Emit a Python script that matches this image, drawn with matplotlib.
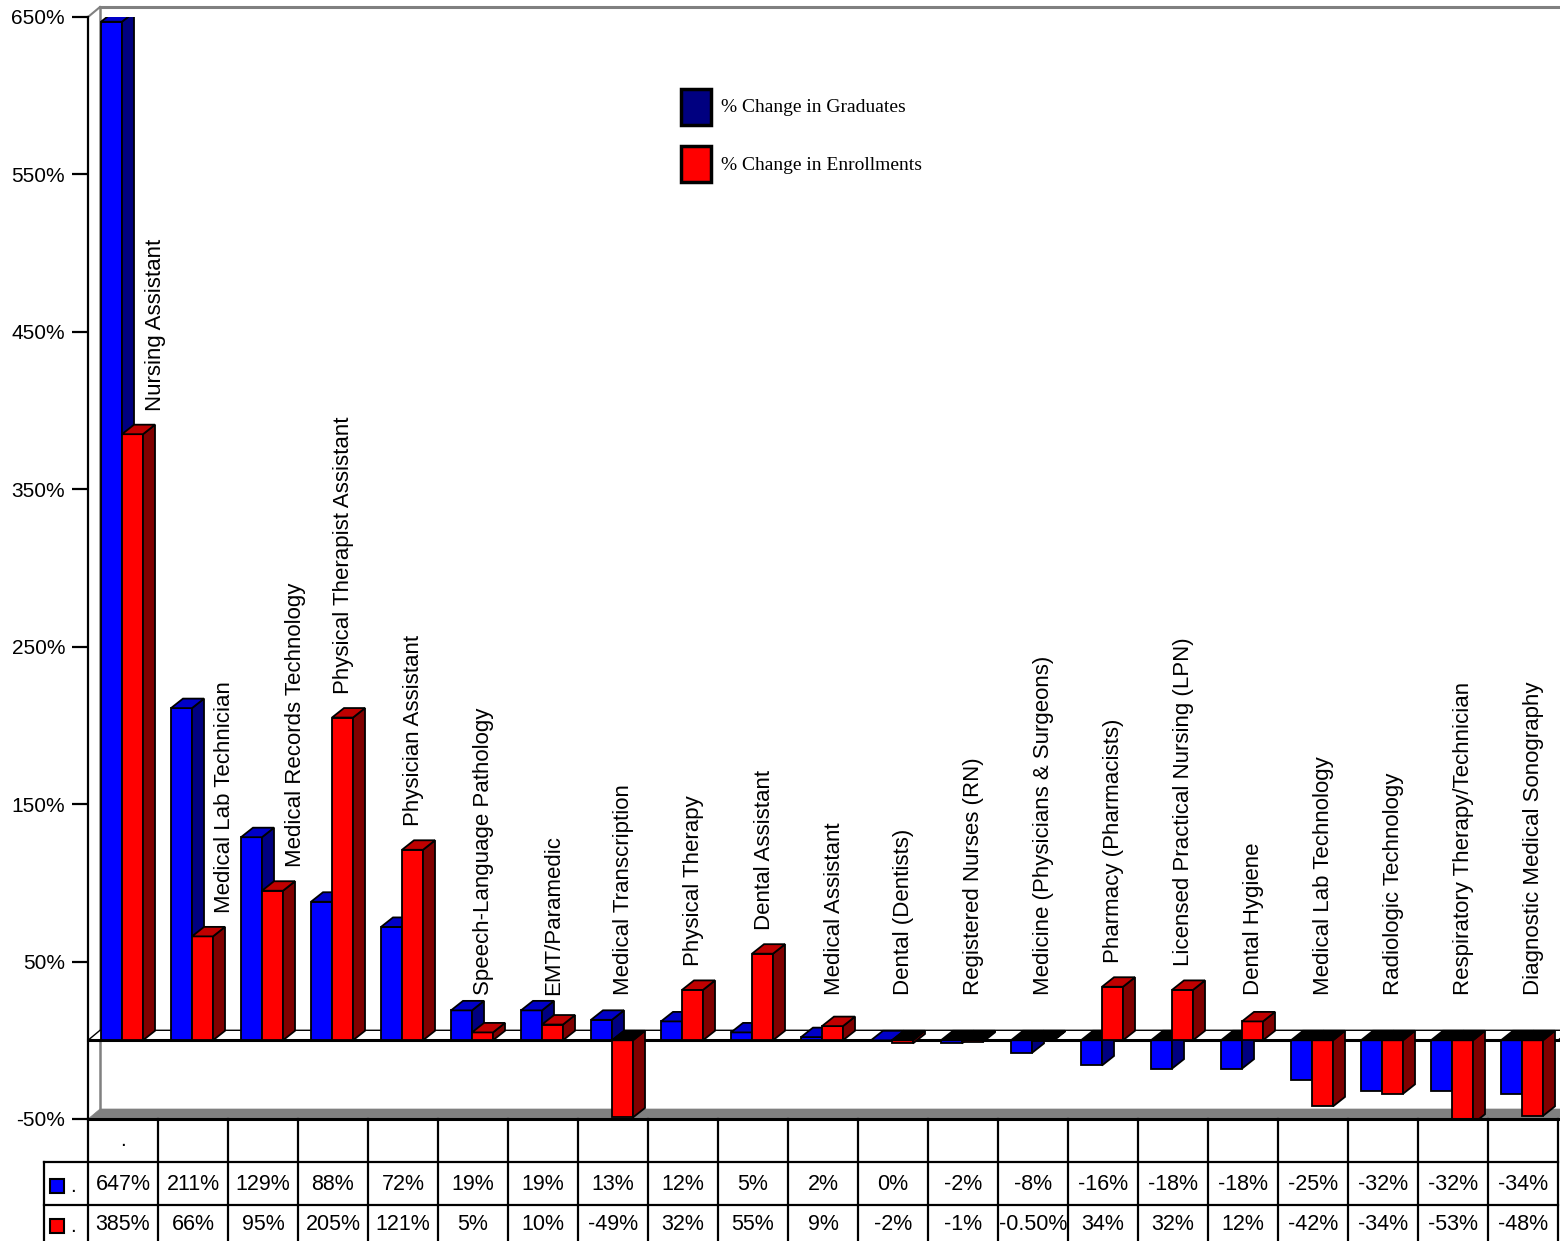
import matplotlib
matplotlib.use("Agg")
import matplotlib.pyplot as plt
from matplotlib.patches import Polygon, Rectangle

# --- dados ---
categorias = [
    "Nursing Assistant", "Medical Lab Technician", "Medical Records Technology",
    "Physical Therapist Assistant", "Physician Assistant", "Speech-Language Pathology",
    "EMT/Paramedic", "Medical Transcription", "Physical Therapy", "Dental Assistant",
    "Medical Assistant", "Dental (Dentists)", "Registered Nurses (RN)",
    "Medicine (Physicians & Surgeons)", "Pharmacy (Pharmacists)",
    "Licensed Practical Nursing (LPN)", "Dental Hygiene", "Medical Lab Technology",
    "Radiologic Technology", "Respiratory Therapy/Technician",
    "Diagnostic Medical Sonography",
]
graduados = [647, 211, 129, 88, 72, 19, 19, 13, 12, 5, 2, 0, -2, -8, -16, -18, -18,
             -25, -32, -32, -34]
matriculas = [385, 66, 95, 205, 121, 5, 10, -49, 32, 55, 9, -2, -1, -0.5, 34, 32, 12,
              -42, -34, -53, -48]
yticks = [-50, 50, 150, 250, 350, 450, 550, 650]
serie_nomes = ["% Change in Graduates", "% Change in Enrollments"]

# --- estilo ---
W, H = 1560, 1241
plt.rcParams["font.family"] = ["Liberation Sans", "DejaVu Sans"]
AZUL = ("#0000FF", "#0000C8", "#000080")
VERM = ("#FF0000", "#C00000", "#800000")
CINZA = "#808080"

fig = plt.figure(figsize=(W / 100, H / 100), dpi=100)
ax = fig.add_axes([88 / W, 1 - 1119 / H, 1470 / W, 1102 / H])
ax.set_xlim(0, len(categorias))
ax.set_ylim(-50, 650)
ax.patch.set_alpha(0)

px_x = len(categorias) / 1470.0   # unidades de x por pixel
px_y = 700 / 1102.0               # % por pixel
dxb, dyb = 12 * px_x, 9.5 * px_y  # profundidade das barras
dxw, dyw = 12 * px_x, 10 * px_y   # profundidade da parede
n = len(categorias)

# parede do fundo e piso
ax.add_patch(Polygon([(0, -50), (n, -50), (n + dxw, -50 + dyw), (dxw, -50 + dyw)],
                     closed=True, facecolor=CINZA, edgecolor=CINZA, lw=0.5,
                     clip_on=False, zorder=1))
ax.plot([dxw, dxw], [-50 + dyw, 650 + dyw], color=CINZA, lw=1.8, clip_on=False, zorder=1)
ax.plot([dxw, n + 1], [650 + dyw, 650 + dyw], color=CINZA, lw=2.2, clip_on=False, zorder=1)
ax.plot([0, dxw], [650, 650 + dyw], color=CINZA, lw=1.5, clip_on=False, zorder=1)

# plano do zero
ax.add_patch(Polygon([(0, 0), (n, 0), (n + dxw, dyw), (dxw, dyw)], closed=True,
                     facecolor="white", edgecolor="black", lw=1.0, zorder=2,
                     clip_on=False))
ax.plot([0, n + 1], [0, 0], color="black", lw=2.2, zorder=2, clip_on=False)


def barra_3d(x0, larg, v, cores, z):
    frente, topo, lado = cores
    x1 = x0 + larg
    ax.bar(x0, v, width=larg, align="edge", color=frente, edgecolor="black",
           lw=1.3, zorder=z)
    if v >= 0:
        ax.add_patch(Polygon([(x1, 0), (x1, v), (x1 + dxb, v + dyb), (x1 + dxb, dyb)],
                             closed=True, facecolor=lado, edgecolor="black", lw=1.3,
                             zorder=z))
        ax.add_patch(Polygon([(x0, v), (x1, v), (x1 + dxb, v + dyb), (x0 + dxb, v + dyb)],
                             closed=True, facecolor=topo, edgecolor="black", lw=1.3,
                             zorder=z))
    else:
        ax.add_patch(Polygon([(x1, v), (x1, 0), (x1 + dxb, dyb), (x1 + dxb, v + dyb)],
                             closed=True, facecolor=lado, edgecolor="black", lw=1.3,
                             zorder=z))
        ax.add_patch(Polygon([(x0, 0), (x1, 0), (x1 + dxb, dyb), (x0 + dxb, dyb)],
                             closed=True, facecolor="black", edgecolor="black", lw=1.3,
                             zorder=z))


for i, (g, m, nome) in enumerate(zip(graduados, matriculas, categorias)):
    z = 3 + i * 0.01
    barra_3d(i + 13 / 70, 21 / 70, g, AZUL, z)
    barra_3d(i + 34 / 70, 21 / 70, m, VERM, z + 0.005)
    # rótulo da categoria acima da barra vermelha
    base = max(m + 15, 29)
    xl = i + 46 / 70
    if g + 6 > base:
        xl = i + 67 / 70
    ax.text(xl, base, nome, rotation=90, ha="center", va="bottom", fontsize=16,
            zorder=10)

# eixo y
for s in ["top", "right", "bottom"]:
    ax.spines[s].set_visible(False)
ax.spines["left"].set_linewidth(1.6)
ax.spines["left"].set_zorder(12)
ax.set_xticks([])
ax.set_yticks(yticks)
ax.set_yticklabels([f"{t}%" for t in yticks], fontsize=15)
ax.tick_params(axis="y", length=11.5, width=1.6, pad=5)

# --- sobreposição em pixels: legenda e tabela ---
ov = fig.add_axes([0, 0, 1, 1], zorder=20)
ov.set_xlim(0, W)
ov.set_ylim(H, 0)
ov.axis("off")
ov.patch.set_alpha(0)

for (yb, cor, rot) in [(89, "#000080", serie_nomes[0]), (146, "#FF0000", serie_nomes[1])]:
    ov.add_patch(Rectangle((681, yb), 30, 36, facecolor=cor, edgecolor="black", lw=2.5))
    ov.text(721, yb + 19, rot, family=["Liberation Serif"], fontsize=14,
            va="center", ha="left")

X0, SLOT = 88, 70
R0, R1, R2, R3 = 1119, 1162, 1205, 1246
ov.plot([X0, X0 + SLOT * n], [R0, R0], color="black", lw=2.2)
ov.plot([44, X0 + SLOT * n], [R1, R1], color="black", lw=1.6)
ov.plot([44, X0 + SLOT * n], [R2, R2], color="black", lw=1.6)
ov.plot([44, 44], [R1, R3], color="black", lw=1.6)
for k in range(n + 1):
    ov.plot([X0 + SLOT * k, X0 + SLOT * k], [R0, R3], color="black", lw=1.6)
ov.text(X0 + SLOT / 2, (R0 + R1) / 2, ".", ha="center", va="center", fontsize=15)


def fmt(v):
    return f"{v:.2f}%" if v != int(v) else f"{int(v)}%"


for (serie, cor, yc) in [(graduados, "#0000FF", (R1 + R2) / 2 + 1),
                         (matriculas, "#FF0000", (R2 + R3) / 2 - 1)]:
    ov.add_patch(Rectangle((50, yc - 6), 14, 14, facecolor=cor, edgecolor="black", lw=1.5))
    ov.text(70, yc + 2, ".", ha="left", va="center", fontsize=15)
    for k, v in enumerate(serie):
        ov.text(X0 + SLOT * k + SLOT / 2, yc, fmt(v), ha="center", va="center",
                fontsize=15.5)

fig.savefig("out.png", dpi=100, facecolor="white")
